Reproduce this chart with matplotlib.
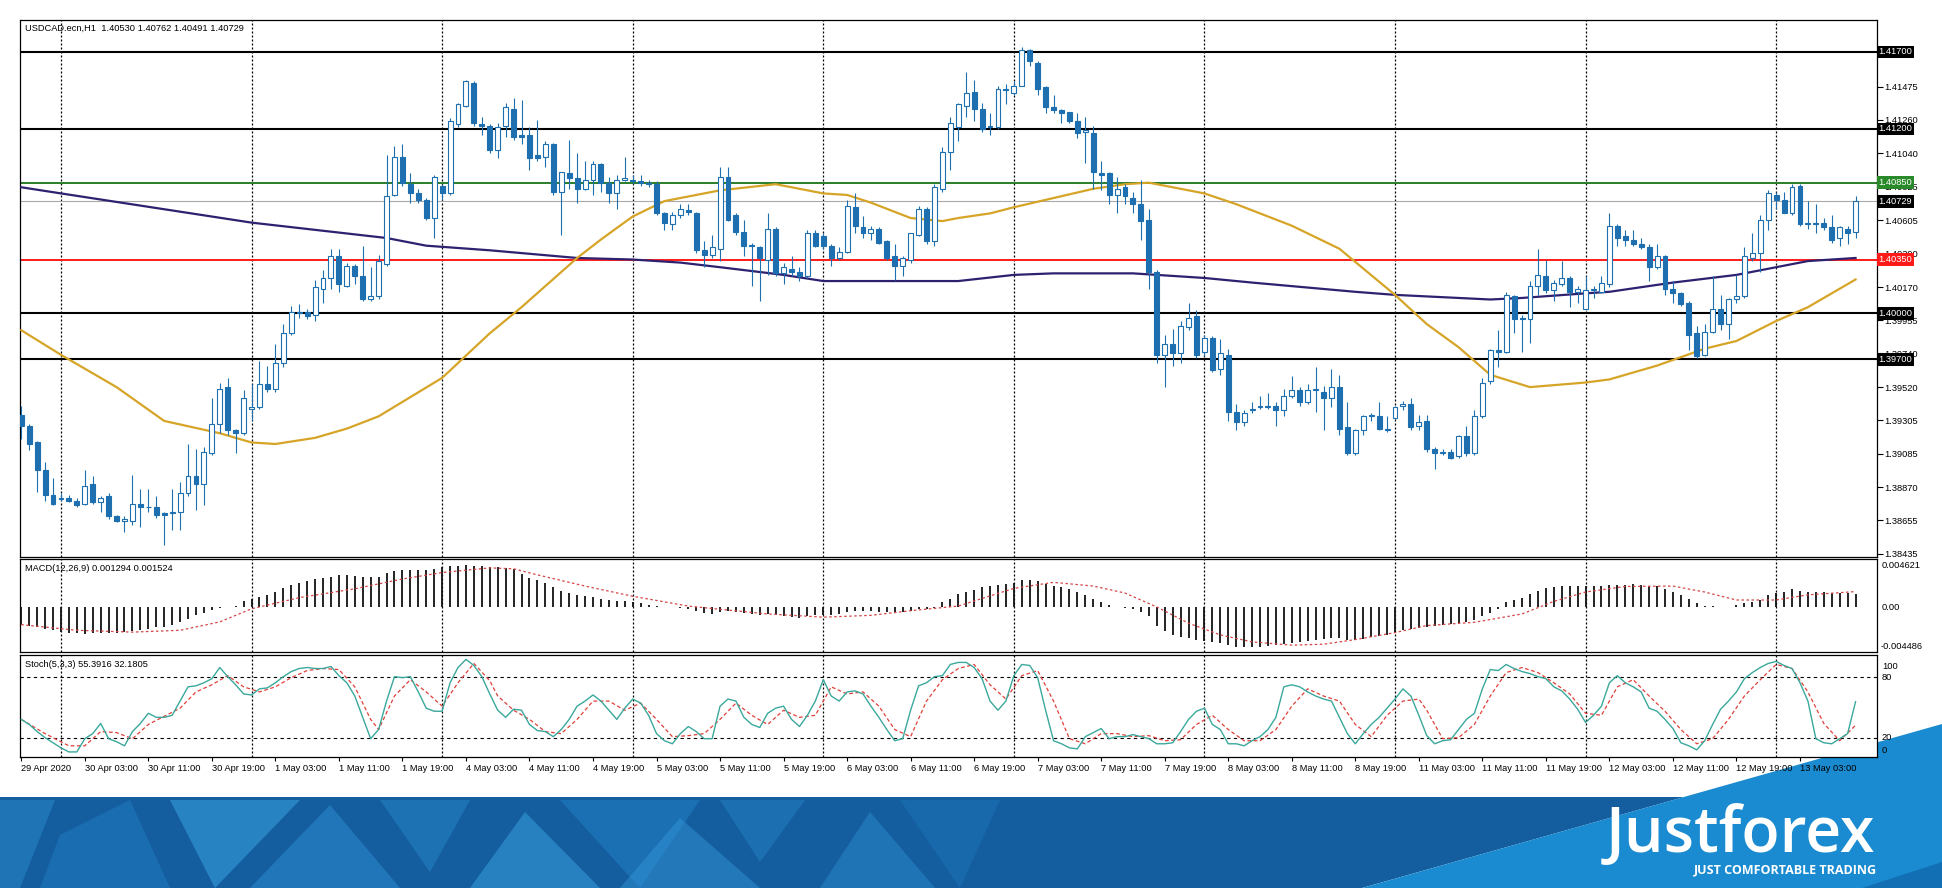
import numpy as np
import matplotlib.pyplot as plt
from matplotlib.patches import Polygon
import matplotlib.transforms as mtransforms

W, H = 1942, 888


def fx(px):
    return px / W


def fy(py):
    return 1 - py / H


# ---- trading sessions (hourly bars, weekend skipped) ----
sessions = [("29 Apr", 19, 24), ("30 Apr", 0, 24), ("1 May", 0, 24),
            ("4 May", 0, 24), ("5 May", 0, 24), ("6 May", 0, 24),
            ("7 May", 0, 24), ("8 May", 0, 24), ("11 May", 0, 24),
            ("12 May", 0, 24), ("13 May", 0, 11)]

# ---- USDCAD H1 candles ----
opens = [1.3934, 1.3927, 1.3916, 1.3898, 1.3882, 1.3879, 1.3880, 1.3878, 1.3876, 1.3889,
         1.3877, 1.3881, 1.3868, 1.3865, 1.3865, 1.3876, 1.3874, 1.3874, 1.3870, 1.3870,
         1.3871, 1.3883, 1.3894, 1.3889, 1.3909, 1.3928, 1.3952, 1.3924, 1.3922, 1.3938,
         1.3939, 1.3954, 1.3951, 1.3968, 1.3987, 1.4000, 1.4001, 1.3999, 1.4016, 1.4023,
         1.4037, 1.4018, 1.4031, 1.4024, 1.4009, 1.4011, 1.4032, 1.4077, 1.4102, 1.4084,
         1.4078, 1.4074, 1.4062, 1.4083, 1.4078, 1.4123, 1.4135, 1.4150, 1.4123, 1.4122,
         1.4106, 1.4122, 1.4133, 1.4116, 1.4116, 1.4103, 1.4102, 1.4110, 1.4079, 1.4091,
         1.4088, 1.4081, 1.4087, 1.4097, 1.4085, 1.4078, 1.4087, 1.4087, 1.4086, 1.4085,
         1.4084, 1.4065, 1.4058, 1.4064, 1.4067, 1.4065, 1.4041, 1.4038, 1.4042, 1.4089,
         1.4064, 1.4053, 1.4044, 1.4043, 1.4035, 1.4055, 1.4026, 1.4029, 1.4027, 1.4024,
         1.4052, 1.4050, 1.4044, 1.4036, 1.4040, 1.4069, 1.4056, 1.4052, 1.4055, 1.4047,
         1.4037, 1.4031, 1.4035, 1.4051, 1.4068, 1.4047, 1.4081, 1.4105, 1.4121, 1.4135,
         1.4144, 1.4133, 1.4121, 1.4121, 1.4146, 1.4143, 1.4148, 1.4171, 1.4163, 1.4147,
         1.4134, 1.4132, 1.4131, 1.4125, 1.4118, 1.4117, 1.4091, 1.4091, 1.4077, 1.4082,
         1.4075, 1.4071, 1.4061, 1.4027, 1.3973, 1.3980, 1.3974, 1.3991, 1.3998, 1.3975,
         1.3984, 1.3964, 1.3973, 1.3936, 1.3929, 1.3937, 1.3939, 1.3939, 1.3940, 1.3937,
         1.3946, 1.3950, 1.3942, 1.3950, 1.3949, 1.3945, 1.3952, 1.3926, 1.3909, 1.3924,
         1.3933, 1.3933, 1.3925, 1.3932, 1.3940, 1.3941, 1.3927, 1.3930, 1.3912, 1.3909,
         1.3910, 1.3907, 1.3920, 1.3909, 1.3933, 1.3956, 1.3976, 1.3975, 1.4011, 1.3997,
         1.3996, 1.4018, 1.4024, 1.4015, 1.4019, 1.4023, 1.4014, 1.4003, 1.4015, 1.4014,
         1.4019, 1.4057, 1.4050, 1.4048, 1.4045, 1.4043, 1.4030, 1.4037, 1.4016, 1.4013,
         1.4007, 1.3987, 1.3973, 1.3988, 1.4003, 1.3993, 1.4009, 1.4011, 1.4036, 1.4039,
         1.4061, 1.4077, 1.4074, 1.4065, 1.4083, 1.4058, 1.4059, 1.4059, 1.4056, 1.4049,
         1.4055, 1.40530]
highs = [1.3940, 1.3928, 1.3917, 1.3903, 1.3893, 1.3883, 1.3882, 1.3880, 1.3898, 1.3894,
         1.3881, 1.3883, 1.3869, 1.3868, 1.3895, 1.3886, 1.3886, 1.3881, 1.3871, 1.3886,
         1.3890, 1.3915, 1.3912, 1.3913, 1.3945, 1.3955, 1.3958, 1.3925, 1.3950, 1.3954,
         1.3969, 1.3966, 1.3980, 1.3993, 1.4005, 1.4006, 1.4003, 1.4022, 1.4028, 1.4042,
         1.4042, 1.4033, 1.4032, 1.4044, 1.4030, 1.4038, 1.4103, 1.4109, 1.4110, 1.4091,
         1.4081, 1.4075, 1.4090, 1.4084, 1.4127, 1.4137, 1.4152, 1.4151, 1.4128, 1.4123,
         1.4124, 1.4137, 1.4140, 1.4139, 1.4121, 1.4126, 1.4112, 1.4111, 1.4092, 1.4113,
         1.4104, 1.4099, 1.4099, 1.4098, 1.4089, 1.4090, 1.4102, 1.4090, 1.4090, 1.4087,
         1.4086, 1.4066, 1.4066, 1.4071, 1.4071, 1.4066, 1.4047, 1.4051, 1.4095, 1.4095,
         1.4065, 1.4061, 1.4046, 1.4044, 1.4065, 1.4056, 1.4033, 1.4037, 1.4030, 1.4054,
         1.4054, 1.4052, 1.4045, 1.4043, 1.4074, 1.4078, 1.4063, 1.4057, 1.4056, 1.4048,
         1.4045, 1.4037, 1.4052, 1.4070, 1.4069, 1.4084, 1.4108, 1.4128, 1.4137, 1.4157,
         1.4152, 1.4137, 1.4130, 1.4148, 1.4149, 1.4151, 1.4173, 1.4172, 1.4164, 1.4148,
         1.4142, 1.4133, 1.4131, 1.4130, 1.4128, 1.4122, 1.4099, 1.4092, 1.4089, 1.4084,
         1.4079, 1.4087, 1.4068, 1.4028, 1.3986, 1.3990, 1.3995, 1.4007, 1.4002, 1.3986,
         1.3985, 1.3983, 1.3977, 1.3941, 1.3937, 1.3942, 1.3946, 1.3948, 1.3942, 1.3951,
         1.3959, 1.3952, 1.3954, 1.3965, 1.3953, 1.3964, 1.3960, 1.3942, 1.3925, 1.3934,
         1.3935, 1.3942, 1.3933, 1.3940, 1.3943, 1.3945, 1.3934, 1.3934, 1.3913, 1.3912,
         1.3912, 1.3921, 1.3927, 1.3937, 1.3958, 1.3977, 1.3989, 1.4014, 1.4012, 1.3999,
         1.4021, 1.4042, 1.4035, 1.4022, 1.4034, 1.4024, 1.4018, 1.4024, 1.4018, 1.4024,
         1.4065, 1.4058, 1.4054, 1.4054, 1.4049, 1.4045, 1.4045, 1.4038, 1.4021, 1.4014,
         1.4008, 1.3992, 1.3993, 1.4024, 1.4012, 1.4010, 1.4025, 1.4043, 1.4052, 1.4064,
         1.4080, 1.4079, 1.4079, 1.4084, 1.4084, 1.4073, 1.4071, 1.4062, 1.4064, 1.4057,
         1.4057, 1.40762]
lows = [1.3918, 1.3911, 1.3884, 1.3878, 1.3875, 1.3878, 1.3877, 1.3874, 1.3875, 1.3876,
        1.3871, 1.3866, 1.3864, 1.3858, 1.3862, 1.3861, 1.3871, 1.3867, 1.3849, 1.3859,
        1.3859, 1.3881, 1.3872, 1.3875, 1.3908, 1.3922, 1.3921, 1.3909, 1.3921, 1.3930,
        1.3938, 1.3949, 1.3949, 1.3965, 1.3986, 1.3997, 1.3996, 1.3995, 1.4007, 1.4016,
        1.4014, 1.4017, 1.4019, 1.4008, 1.4008, 1.4009, 1.4031, 1.4076, 1.4083, 1.4072,
        1.4072, 1.4061, 1.4049, 1.4074, 1.4077, 1.4121, 1.4134, 1.4122, 1.4116, 1.4104,
        1.4101, 1.4115, 1.4113, 1.4110, 1.4093, 1.4099, 1.4095, 1.4077, 1.4051, 1.4081,
        1.4072, 1.4080, 1.4077, 1.4079, 1.4072, 1.4068, 1.4086, 1.4084, 1.4083, 1.4082,
        1.4064, 1.4054, 1.4054, 1.4062, 1.4064, 1.4039, 1.4030, 1.4036, 1.4034, 1.4060,
        1.4051, 1.4037, 1.4018, 1.4008, 1.4025, 1.4024, 1.4019, 1.4024, 1.4021, 1.4023,
        1.4043, 1.4042, 1.4031, 1.4035, 1.4039, 1.4052, 1.4049, 1.4048, 1.4045, 1.4035,
        1.4022, 1.4024, 1.4033, 1.4050, 1.4045, 1.4044, 1.4079, 1.4093, 1.4112, 1.4128,
        1.4125, 1.4118, 1.4116, 1.4120, 1.4136, 1.4142, 1.4148, 1.4161, 1.4142, 1.4130,
        1.4130, 1.4124, 1.4124, 1.4114, 1.4098, 1.4081, 1.4080, 1.4071, 1.4065, 1.4071,
        1.4065, 1.4048, 1.4016, 1.3968, 1.3952, 1.3966, 1.3968, 1.3989, 1.3971, 1.3972,
        1.3962, 1.3960, 1.3930, 1.3924, 1.3927, 1.3935, 1.3938, 1.3938, 1.3927, 1.3933,
        1.3945, 1.3940, 1.3941, 1.3936, 1.3924, 1.3939, 1.3921, 1.3908, 1.3908, 1.3921,
        1.3930, 1.3924, 1.3923, 1.3931, 1.3937, 1.3924, 1.3924, 1.3910, 1.3899, 1.3908,
        1.3905, 1.3906, 1.3907, 1.3908, 1.3932, 1.3954, 1.3965, 1.3974, 1.3987, 1.3975,
        1.3981, 1.4012, 1.4013, 1.4008, 1.4018, 1.4004, 1.4007, 1.4002, 1.4010, 1.4013,
        1.4017, 1.4044, 1.4044, 1.4044, 1.4042, 1.4021, 1.4029, 1.4012, 1.4007, 1.4005,
        1.3976, 1.3971, 1.3972, 1.3987, 1.3989, 1.3983, 1.4007, 1.4010, 1.4034, 1.4027,
        1.4054, 1.4068, 1.4065, 1.4064, 1.4057, 1.4055, 1.4052, 1.4054, 1.4046, 1.4044,
        1.4045, 1.40491]
closes = [1.3927, 1.3915, 1.3898, 1.3882, 1.3876, 1.3880, 1.3878, 1.3875, 1.3888, 1.3877,
          1.3880, 1.3868, 1.3865, 1.3866, 1.3876, 1.3874, 1.3874, 1.3869, 1.3869, 1.3871,
          1.3883, 1.3894, 1.3889, 1.3910, 1.3928, 1.3951, 1.3924, 1.3922, 1.3945, 1.3939,
          1.3954, 1.3951, 1.3968, 1.3987, 1.4001, 1.4001, 1.3998, 1.4017, 1.4023, 1.4037,
          1.4019, 1.4031, 1.4024, 1.4009, 1.4011, 1.4034, 1.4076, 1.4102, 1.4085, 1.4078,
          1.4074, 1.4062, 1.4089, 1.4078, 1.4125, 1.4136, 1.4151, 1.4124, 1.4122, 1.4106,
          1.4121, 1.4134, 1.4115, 1.4115, 1.4101, 1.4101, 1.4110, 1.4079, 1.4092, 1.4088,
          1.4081, 1.4087, 1.4097, 1.4085, 1.4078, 1.4087, 1.4088, 1.4086, 1.4085, 1.4084,
          1.4065, 1.4059, 1.4064, 1.4068, 1.4066, 1.4041, 1.4038, 1.4043, 1.4089, 1.4061,
          1.4053, 1.4044, 1.4044, 1.4036, 1.4055, 1.4026, 1.4030, 1.4027, 1.4024, 1.4052,
          1.4044, 1.4044, 1.4036, 1.4040, 1.4070, 1.4057, 1.4052, 1.4055, 1.4046, 1.4036,
          1.4031, 1.4036, 1.4052, 1.4068, 1.4047, 1.4082, 1.4105, 1.4124, 1.4136, 1.4143,
          1.4133, 1.4120, 1.4122, 1.4146, 1.4145, 1.4148, 1.4171, 1.4164, 1.4146, 1.4134,
          1.4132, 1.4130, 1.4125, 1.4117, 1.4119, 1.4092, 1.4090, 1.4077, 1.4081, 1.4076,
          1.4071, 1.4060, 1.4027, 1.3973, 1.3980, 1.3974, 1.3992, 1.3997, 1.3973, 1.3984,
          1.3963, 1.3974, 1.3936, 1.3929, 1.3935, 1.3938, 1.3940, 1.3940, 1.3937, 1.3946,
          1.3950, 1.3942, 1.3950, 1.3951, 1.3945, 1.3952, 1.3925, 1.3909, 1.3924, 1.3933,
          1.3934, 1.3925, 1.3924, 1.3939, 1.3941, 1.3926, 1.3929, 1.3912, 1.3909, 1.3910,
          1.3906, 1.3920, 1.3909, 1.3933, 1.3955, 1.3976, 1.3975, 1.4012, 1.3996, 1.3996,
          1.4018, 1.4025, 1.4015, 1.4020, 1.4023, 1.4014, 1.4016, 1.4015, 1.4016, 1.4020,
          1.4057, 1.4049, 1.4048, 1.4045, 1.4043, 1.4030, 1.4037, 1.4016, 1.4013, 1.4006,
          1.3986, 1.3972, 1.3988, 1.4003, 1.3993, 1.4009, 1.4011, 1.4037, 1.4039, 1.4061,
          1.4078, 1.4074, 1.4065, 1.4082, 1.4058, 1.4059, 1.4058, 1.4056, 1.4048, 1.4056,
          1.4052, 1.40729]

# ---- moving averages (read at bar indices) ----
ma_slow_idx = [0, 5, 29, 46, 51, 59, 70, 77, 83, 88, 96, 101, 110, 118, 125, 130, 140,
               149, 155, 168, 173, 177, 185, 189, 197, 200, 208, 216, 221, 225, 231]
ma_slow = [1.4082, 1.4078, 1.4059, 1.4049, 1.4044, 1.4041, 1.4036, 1.4035, 1.4033, 1.4030,
           1.4025, 1.4021, 1.4021, 1.4021, 1.4025, 1.4026, 1.4026, 1.4023, 1.4020, 1.4014,
           1.4012, 1.4011, 1.4009, 1.4010, 1.4013, 1.4014, 1.4020, 1.4025, 1.4030, 1.4034,
           1.4036]
ma_fast_idx = [0, 5, 12, 18, 25, 29, 32, 37, 41, 45, 53, 59, 63, 70, 73, 77, 81, 88, 95,
               101, 104, 107, 112, 116, 118, 122, 125, 130, 135, 139, 142, 149, 153, 160,
               166, 173, 177, 181, 185, 190, 197, 200, 206, 212, 216, 221, 225, 231]
ma_fast = [1.3989, 1.3973, 1.3952, 1.3930, 1.3922, 1.3916, 1.3915, 1.3919, 1.3925, 1.3933,
           1.3958, 1.3987, 1.4004, 1.4036, 1.4048, 1.4063, 1.4073, 1.4080, 1.4084, 1.4078,
           1.4077, 1.4072, 1.4062, 1.4060, 1.4062, 1.4065, 1.4069, 1.4075, 1.4081, 1.4084,
           1.4085, 1.4078, 1.4071, 1.4057, 1.4042, 1.4012, 1.3993, 1.3978, 1.3960, 1.3952,
           1.3955, 1.3957, 1.3966, 1.3977, 1.3982, 1.3995, 1.4004, 1.4022]

# ---- horizontal levels ----
level_black = [1.41700, 1.41200, 1.40000, 1.39700]
level_green = 1.40850
level_red = 1.40350
price_ticks = [1.41475, 1.41260, 1.41040, 1.40825, 1.40605, 1.40390, 1.40170, 1.39955,
               1.39740, 1.39520, 1.39305, 1.39085, 1.38870, 1.38655, 1.38435]

# ---- MACD(12,26,9) ----
macd_hist = [-0.00175, -0.00184, -0.00198, -0.00221, -0.00231, -0.00244, -0.00254, -0.00258,
             -0.00263, -0.00258, -0.00258, -0.00258, -0.00254, -0.00249, -0.00240, -0.00231,
             -0.00217, -0.00203, -0.00194, -0.00175, -0.00148, -0.00120, -0.00083, -0.00055,
             -0.00028, -0.00009, 0.00002, 0.00009, 0.00055, 0.00083, 0.00101, 0.00115,
             0.00148, 0.00184, 0.00221, 0.00240, 0.00258, 0.00277, 0.00286, 0.00300,
             0.00313, 0.00313, 0.00309, 0.00300, 0.00295, 0.00300, 0.00332, 0.00360,
             0.00369, 0.00369, 0.00369, 0.00369, 0.00378, 0.00392, 0.00406, 0.00406,
             0.00415, 0.00406, 0.00401, 0.00392, 0.00392, 0.00383, 0.00378, 0.00323,
             0.00286, 0.00267, 0.00240, 0.00194, 0.00161, 0.00138, 0.00115, 0.00106,
             0.00101, 0.00083, 0.00069, 0.00055, 0.00055, 0.00046, 0.00037, 0.00023,
             0.00009, -0.00002, -0.00005, -0.00009, -0.00018, -0.00037, -0.00055, -0.00069,
             -0.00046, -0.00037, -0.00046, -0.00055, -0.00069, -0.00078, -0.00074, -0.00083,
             -0.00092, -0.00101, -0.00111, -0.00092, -0.00083, -0.00083, -0.00083, -0.00074,
             -0.00046, -0.00037, -0.00037, -0.00041, -0.00046, -0.00046, -0.00046, -0.00046,
             -0.00037, -0.00023, -0.00023, -0.00009, 0.00046, 0.00083, 0.00129, 0.00148,
             0.00171, 0.00194, 0.00203, 0.00221, 0.00231, 0.00240, 0.00263, 0.00267,
             0.00258, 0.00231, 0.00207, 0.00194, 0.00175, 0.00148, 0.00115, 0.00083,
             0.00046, 0.00023, 0.00001, -0.00009, -0.00023, -0.00046, -0.00092, -0.00184,
             -0.00240, -0.00277, -0.00300, -0.00309, -0.00323, -0.00337, -0.00350, -0.00360,
             -0.00378, -0.00392, -0.00396, -0.00396, -0.00392, -0.00387, -0.00378, -0.00369,
             -0.00360, -0.00346, -0.00337, -0.00323, -0.00313, -0.00304, -0.00309, -0.00323,
             -0.00323, -0.00313, -0.00300, -0.00286, -0.00277, -0.00254, -0.00231, -0.00221,
             -0.00207, -0.00198, -0.00184, -0.00175, -0.00166, -0.00161, -0.00148, -0.00129,
             -0.00092, -0.00055, -0.00023, 0.00046, 0.00069, 0.00092, 0.00129, 0.00161,
             0.00184, 0.00194, 0.00203, 0.00207, 0.00207, 0.00203, 0.00203, 0.00203,
             0.00217, 0.00221, 0.00221, 0.00231, 0.00221, 0.00207, 0.00203, 0.00175,
             0.00148, 0.00115, 0.00083, 0.00037, 0.00009, 0.00009, 0.00001, 0.00001,
             0.00018, 0.00037, 0.00046, 0.00069, 0.00115, 0.00138, 0.00148, 0.00175,
             0.00161, 0.00152, 0.00148, 0.00152, 0.00138, 0.00138, 0.00138, 0.001294]
macd_sig_idx = [0, 7, 14, 20, 25, 29, 35, 42, 48, 53, 59, 62, 65, 71, 77, 84, 88, 94, 101,
                107, 112, 118, 125, 130, 135, 139, 143, 147, 151, 155, 160, 164, 168, 173,
                177, 183, 189, 193, 197, 202, 208, 212, 216, 221, 225, 231]
macd_sig = [-0.00175, -0.00231, -0.00249, -0.00231, -0.00148, -0.00018, 0.00092, 0.00180,
            0.00277, 0.00341, 0.00387, 0.00378, 0.00318, 0.00207, 0.00106, 0.00009,
            -0.00023, -0.00069, -0.00101, -0.00083, -0.00037, 0.00009, 0.00184, 0.00244,
            0.00207, 0.00138, 0.00000, -0.00161, -0.00277, -0.00346, -0.00378, -0.00369,
            -0.00323, -0.00254, -0.00184, -0.00152, -0.00069, 0.00055, 0.00148, 0.00203,
            0.00207, 0.00148, 0.00069, 0.00069, 0.00120, 0.001524]

# ---- Stochastic(5,3,3) ----
stoch_k = [38, 33, 26, 20, 15, 10, 6, 6, 19, 24, 34, 19, 16, 12, 26, 34, 44, 40, 40, 42,
           56, 70, 71, 74, 78, 89, 80, 72, 63, 62, 68, 69, 74, 80, 85, 88, 89, 88, 88, 90,
           81, 74, 61, 40, 19, 28, 56, 80, 79, 80, 65, 49, 46, 46, 74, 89, 97, 91, 80, 63,
           47, 40, 48, 47, 33, 27, 26, 21, 28, 38, 51, 56, 62, 56, 47, 38, 49, 58, 54, 42,
           24, 17, 14, 24, 31, 26, 19, 19, 51, 58, 56, 40, 33, 30, 44, 49, 51, 38, 31, 42,
           56, 77, 61, 56, 65, 66, 63, 51, 40, 28, 17, 19, 47, 71, 74, 80, 81, 92, 94, 94,
           89, 78, 56, 47, 56, 81, 92, 91, 79, 47, 17, 14, 10, 9, 21, 25, 29, 19, 21, 21,
           23, 21, 19, 14, 14, 15, 26, 38, 46, 49, 33, 28, 14, 14, 12, 17, 21, 28, 40, 70,
           72, 70, 65, 61, 58, 56, 40, 24, 14, 24, 33, 40, 49, 58, 68, 61, 42, 22, 14, 17,
           18, 28, 38, 44, 68, 87, 86, 92, 88, 85, 83, 80, 78, 70, 66, 58, 48, 35, 42, 51,
           74, 81, 74, 70, 65, 49, 46, 38, 29, 15, 12, 8, 17, 33, 48, 56, 65, 78, 84, 89,
           93, 95, 91, 88, 74, 56, 19, 15, 14, 19, 24, 55.3916]
stoch_d_idx = [0, 3, 6, 8, 10, 12, 14, 16, 18, 20, 22, 24, 26, 28, 30, 32, 34, 36, 38, 40,
               42, 44, 45, 47, 49, 51, 53, 55, 57, 59, 60, 62, 64, 66, 68, 70, 72, 74, 76,
               78, 80, 82, 84, 86, 88, 90, 92, 94, 96, 98, 100, 102, 104, 106, 108, 110,
               112, 114, 116, 118, 120, 122, 124, 126, 128, 130, 132, 134, 136, 138, 140,
               142, 144, 146, 148, 150, 152, 154, 156, 158, 160, 162, 164, 166, 168, 170,
               172, 174, 176, 177, 179, 181, 183, 185, 187, 189, 191, 193, 195, 197, 199,
               201, 203, 205, 207, 209, 211, 213, 215, 217, 219, 221, 223, 225, 227, 229, 231]
stoch_d = [38, 24, 12, 12, 26, 25, 19, 33, 41, 49, 65, 72, 81, 70, 65, 70, 79, 86, 88, 87,
           70, 38, 28, 61, 77, 65, 51, 74, 93, 76, 61, 47, 38, 26, 24, 38, 56, 56, 47,
           54, 38, 21, 22, 24, 38, 54, 42, 33, 47, 40, 42, 70, 63, 65, 51, 28,
           21, 56, 77, 88, 92, 72, 58, 81, 86, 56, 19, 14, 24, 24, 21,
           22, 17, 18, 33, 42, 28, 17, 17, 28, 51, 68, 61, 56, 33, 21,
           42, 56, 58, 47, 19, 20, 33, 61, 84, 89, 84, 74, 63, 44, 42,
           70, 77, 61, 46, 28, 14, 19, 38, 61, 77, 92, 88, 65, 34, 17, 32.1805]

# ---- derived bar calendar ----
bar_day, bar_hour = [], []
for day, h0, h1 in sessions:
    for h in range(h0, h1):
        bar_day.append(day)
        bar_hour.append(h)
n = len(closes)
idx = np.arange(n)
day_starts = [i for i in range(n) if bar_hour[i] == 0]
label_idx = list(range(0, n, 8))
label_txt = ["29 Apr 2020" if i == 0 else f"{bar_day[i]} {bar_hour[i]:02d}:00" for i in label_idx]

# ---- styles ----
BLUE = "#1d6fb0"
FONT = "Liberation Sans"
FS = 6.7
plt.rcParams["font.family"] = [FONT, "DejaVu Sans"]

fig = plt.figure(figsize=(W / 100, H / 100), dpi=100)
fig.patch.set_facecolor("white")

# background / banner
bg = fig.add_axes([0, 0, 1, 1], zorder=-5)
bg.set_xlim(0, W)
bg.set_ylim(H, 0)
bg.axis("off")
bg.add_patch(Polygon([(0, 797), (1684, 797), (1362, 888), (0, 888)], closed=True,
                     facecolor="#145e9f", edgecolor="none"))
shards = [
    ([(0, 800), (55, 800), (20, 888), (0, 888)], "#2d8fd0", 0.45),
    ([(60, 835), (130, 800), (170, 888), (40, 888)], "#1f78bd", 0.6),
    ([(170, 800), (300, 800), (215, 888)], "#3aa2e2", 0.55),
    ([(250, 888), (330, 805), (400, 888)], "#2c8fd2", 0.5),
    ([(380, 800), (470, 800), (430, 872)], "#2a8ccf", 0.45),
    ([(470, 888), (525, 812), (600, 888)], "#3aa2e2", 0.5),
    ([(560, 800), (700, 800), (640, 888)], "#2383c8", 0.5),
    ([(620, 888), (680, 818), (760, 888)], "#3498da", 0.45),
    ([(720, 800), (805, 800), (760, 862)], "#2a8ccf", 0.4),
    ([(820, 888), (870, 812), (935, 888)], "#2e90d4", 0.45),
    ([(900, 800), (1000, 800), (960, 888)], "#1c74b9", 0.5),
]
for pts, col, a in shards:
    bg.add_patch(Polygon(pts, closed=True, facecolor=col, edgecolor="none", alpha=a))
bg.add_patch(Polygon([(1362, 888), (1942, 724), (1942, 888)], closed=True,
                     facecolor="#1a8bd0", edgecolor="none"))
bg.add_patch(Polygon([(1862, 888), (1942, 862), (1942, 888)], closed=True,
                     facecolor="#136fb4", edgecolor="none"))
bg.text(1875, 852, "Justforex", color="white", fontsize=45, ha="right", va="baseline",
        fontweight="semibold", family=["Open Sans", "DejaVu Sans"])
bg.text(1877, 873, "JUST COMFORTABLE TRADING", color="white", fontsize=9, ha="right",
        va="baseline", fontweight="bold", family=["Open Sans", "DejaVu Sans"])


def add_panel(top, bottom):
    a = fig.add_axes([fx(20), fy(bottom), fx(1877) - fx(20), fy(top) - fy(bottom)])
    a.set_xlim(-0.16, 233.7)
    for s in a.spines.values():
        s.set_color("black")
        s.set_linewidth(0.9)
    a.tick_params(axis="x", bottom=False, labelbottom=False)
    for d in day_starts:
        a.axvline(d, color="black", lw=0.9, ls=(0, (1.6, 1.6)), zorder=1)
    return a


ax = add_panel(20, 557)
ax_m = add_panel(559, 652)
ax_s = add_panel(655, 757)

# ---- price panel ----
ax.set_ylim(1.38415, 1.41908)
for lv in level_black:
    ax.axhline(lv, color="black", lw=1.5, zorder=2)
ax.axhline(level_green, color="#2a7d2a", lw=1.4, zorder=2)
ax.axhline(level_red, color="#ff1a1a", lw=1.4, zorder=2)
ax.axhline(closes[-1], color="#a9a9a9", lw=0.8, zorder=2)

ax.plot(ma_slow_idx, ma_slow, color="#2e2170", lw=1.6, zorder=3)
ax.plot(ma_fast_idx, ma_fast, color="#d6a528", lw=1.6, zorder=3)

o = np.array(opens)
c = np.array(closes)
up = c > o
ax.vlines(idx, lows, highs, color=BLUE, lw=0.8, zorder=4)
body_lo = np.minimum(o, c)
body_h = np.maximum(np.abs(c - o), 0.00002)
ax.bar(idx[up], body_h[up], bottom=body_lo[up], width=0.62, facecolor="white",
       edgecolor=BLUE, lw=0.8, zorder=5)
ax.bar(idx[~up], body_h[~up], bottom=body_lo[~up], width=0.62, facecolor=BLUE,
       edgecolor=BLUE, lw=0.8, zorder=5)

ax.yaxis.tick_right()
ax.set_yticks(price_ticks)
ax.set_yticklabels([f"{t:.5f}" for t in price_ticks])
ax.tick_params(axis="y", labelsize=FS, length=4, width=0.8, pad=1.5)

blend = mtransforms.blended_transform_factory(ax.transAxes, ax.transData)
boxes = [(lv, "black") for lv in level_black] + [(level_green, "#2a8a2a"),
                                                  (level_red, "#ff1a1a"),
                                                  (closes[-1], "black")]
for val, col in boxes:
    ax.text(1.0007, val, f"{val:.5f}", transform=blend, color="white", fontsize=FS,
            ha="left", va="center", zorder=20, clip_on=False,
            bbox=dict(facecolor=col, edgecolor="none", pad=1.3))

fig.text(fx(25), fy(28), f"USDCAD.ecn,H1  {opens[-1]:.5f} {highs[-1]:.5f} {lows[-1]:.5f} {closes[-1]:.5f}",
         fontsize=FS, va="center", ha="left")

# ---- MACD panel ----
ax_m.set_ylim(-0.00446, 0.00475)
ax_m.set_yticks([])
ax_m.vlines(idx, 0, macd_hist, color="#111111", lw=1.3, zorder=3)
ax_m.plot(macd_sig_idx, macd_sig, color="#d64545", lw=0.9, ls=(0, (2, 2)), zorder=4)
fig.text(fx(25), fy(568), f"MACD(12,26,9) {macd_hist[-1]:.6f} {macd_sig[-1]:.6f}",
         fontsize=FS, va="center", ha="left")
fig.text(fx(1882), fy(565), "0.004621", fontsize=FS, va="center", ha="left")
fig.text(fx(1882), fy(607), "0.00", fontsize=FS, va="center", ha="left")
fig.text(fx(1881), fy(646), "-0.004486", fontsize=FS, va="center", ha="left")

# ---- Stochastic panel ----
ax_s.set_ylim(1.0, 101.3)
ax_s.set_yticks([])
ax_s.axhline(80, color="black", lw=0.8, ls=(0, (3, 3)), zorder=2)
ax_s.axhline(20, color="black", lw=0.8, ls=(0, (3, 3)), zorder=2)
ax_s.plot(idx, stoch_k, color="#3aa89c", lw=1.0, zorder=4)
ax_s.plot(stoch_d_idx, stoch_d, color="#e0403a", lw=0.9, ls=(0, (3, 2)), zorder=3)
fig.text(fx(25), fy(664), f"Stoch(5,3,3) {stoch_k[-1]:.4f} {stoch_d[-1]:.4f}",
         fontsize=FS, va="center", ha="left")
for txt, py in [("100", 666), ("80", 677), ("20", 738), ("0", 750)]:
    fig.text(fx(1882), fy(py), txt, fontsize=FS, va="center", ha="left")

ax_s.tick_params(axis="x", bottom=True, labelbottom=True, length=3, width=0.8,
                 pad=2, labelsize=FS)
ax_s.set_xticks(label_idx)
ax_s.set_xticklabels(label_txt, ha="left")

fig.savefig("out.png", dpi=100, facecolor="white")
